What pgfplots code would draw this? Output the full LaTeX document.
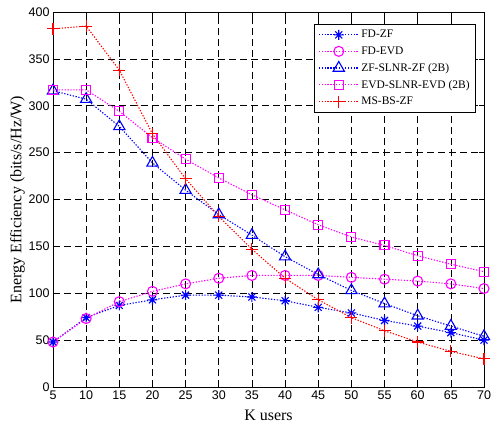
\documentclass[border=0pt]{standalone}
\usepackage{fontspec}
\setmainfont{Liberation Serif}
\newfontfamily\ticksfont{Liberation Sans}
\usepackage{pgfplots}
\usepackage{pgfplotstable}
\pgfplotsset{compat=1.18}

% eight-spoke asterisk, as in MATLAB's '*' marker
\pgfdeclareplotmark{mstar}{%
  \pgfpathmoveto{\pgfqpoint{-\pgfplotmarksize}{0pt}}%
  \pgfpathlineto{\pgfqpoint{\pgfplotmarksize}{0pt}}%
  \pgfpathmoveto{\pgfqpoint{0pt}{-\pgfplotmarksize}}%
  \pgfpathlineto{\pgfqpoint{0pt}{\pgfplotmarksize}}%
  \pgfpathmoveto{\pgfqpoint{-0.7\pgfplotmarksize}{-0.7\pgfplotmarksize}}%
  \pgfpathlineto{\pgfqpoint{0.7\pgfplotmarksize}{0.7\pgfplotmarksize}}%
  \pgfpathmoveto{\pgfqpoint{-0.7\pgfplotmarksize}{0.7\pgfplotmarksize}}%
  \pgfpathlineto{\pgfqpoint{0.7\pgfplotmarksize}{-0.7\pgfplotmarksize}}%
  \pgfusepathqstroke}

\definecolor{mblue}{RGB}{0,0,255}
\definecolor{mmag}{RGB}{255,0,255}
\definecolor{mred}{RGB}{255,0,0}

% K  FDZF  FDEVD  ZFSLNR  EVDSLNR  MSBS
\pgfplotstableread{
K  fdzf fdevd zfslnr evdslnr msbs
5   48   48   316  317  382
10  74   73   307  317  385
15  87   91   278  294  338
20  93  102   239  266  270
25  98  110   210  243  222
30  98  116   184  223  182
35  96  119   162  205  147
40  92  119   139  189  116
45  85  119   120  173   93
50  79  117   103  160   74
55  71  115    89  151   60
60  65  113    76  140   48
65  58  110    65  131   38
70  50  105    54  123   30
}\datatable

\begin{document}
\begin{tikzpicture}
\begin{axis}[
  scale only axis,
  width=431pt, height=375pt,
  xmin=5, xmax=70, ymin=0, ymax=400,
  xtick={5,10,...,70},
  ytick={0,50,...,400},
  tick align=inside,
  major tick length=5pt,
  tick style={black, line width=0.6pt},
  axis line style={black, line width=0.8pt},
  grid=major,
  major grid style={black, line width=0.6pt, dash pattern=on 7pt off 4pt},
  tick label style={font=\ticksfont\fontsize{12.5}{14}\selectfont},
  /pgf/number format/assume math mode=true,
  xlabel={K users},
  ylabel={Energy Efficiency (bits/s/Hz/W)},
  label style={font=\fontsize{16}{18}\selectfont},
  xlabel style={yshift=-4pt},
  ylabel style={yshift=-3pt},
  every axis plot/.append style={line width=1.1pt, dash pattern=on 1.3pt off 1.6pt, mark size=5pt, mark options={solid, line width=1.1pt}},
  legend style={at={(1,1)}, anchor=north east, xshift=-8pt, yshift=-12pt,
    font=\fontsize{11.5}{13}\selectfont, draw=black, line width=0.8pt,
    row sep=3.4pt, inner xsep=4pt, inner ysep=4pt},
  legend cell align=left,
  legend image code/.code={%
    \draw[mark repeat=2, mark phase=2, #1, line width=1.1pt]
      plot coordinates {(0pt,0pt) (20pt,0pt) (40pt,0pt)};},
  clip=false,
]
\addplot[color=mblue, mark=mstar] table[x=K, y=fdzf] {\datatable};
\addlegendentry{FD-ZF}
\addplot[color=mmag, mark=o] table[x=K, y=fdevd] {\datatable};
\addlegendentry{FD-EVD}
\addplot[color=mblue, mark=triangle, mark size=6.5pt] table[x=K, y=zfslnr] {\datatable};
\addlegendentry{ZF-SLNR-ZF (2B)}
\addplot[color=mmag, mark=square, mark size=4.5pt] table[x=K, y=evdslnr] {\datatable};
\addlegendentry{EVD-SLNR-EVD (2B)}
\addplot[color=mred, mark=+, mark size=6pt] table[x=K, y=msbs] {\datatable};
\addlegendentry{MS-BS-ZF}
\end{axis}
\pgfresetboundingbox
\path[use as bounding box] ([shift={(-53pt,-44pt)}]current axis.south west) rectangle ([shift={(13pt,12pt)}]current axis.north east);
\end{tikzpicture}
\end{document}
